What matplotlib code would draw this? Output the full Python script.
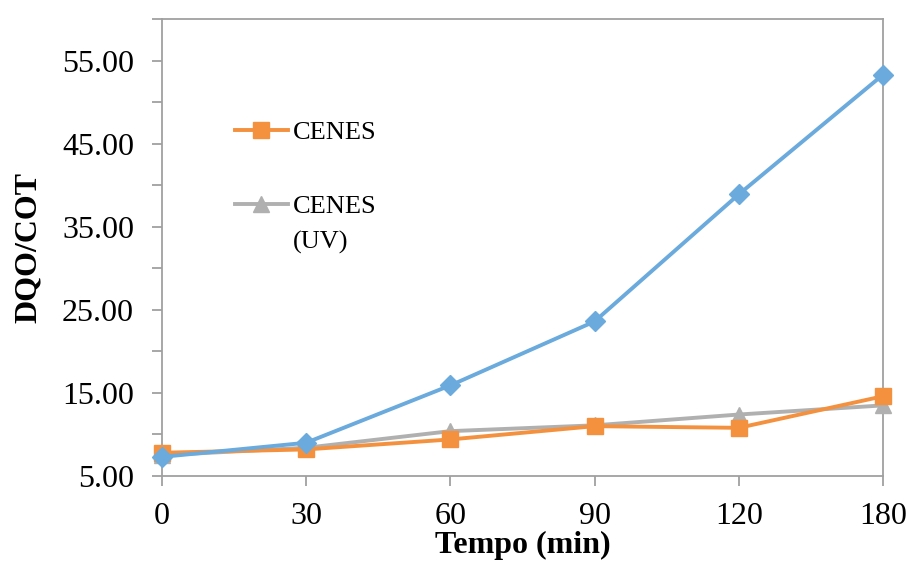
import matplotlib
matplotlib.use("Agg")
import matplotlib.pyplot as plt
from matplotlib.ticker import FixedLocator

categories = ["0", "30", "60", "90", "120", "180"]
serie_azul = [7.3, 9.0, 15.9, 23.6, 38.9, 53.3]
cenes = [7.8, 8.2, 9.4, 11.0, 10.8, 14.6]
cenes_uv = [7.5, 8.4, 10.4, 11.1, 12.4, 13.5]
legend_labels = ["CENES", "CENES", "(UV)"]

plt.rcParams['font.family'] = ['Liberation Serif', 'DejaVu Serif']

fig = plt.figure(figsize=(9.09, 5.61), dpi=100)
ax = fig.add_axes([0.178, 0.1515, 0.7934, 0.8145])

x = list(range(len(categories)))
blue = '#6AAADD'
orange = '#F4913F'
gray = '#B0B0B0'

l_uv, = ax.plot(x, cenes_uv, color=gray, lw=2.8, marker='^', ms=12, clip_on=False, zorder=3)
l_c, = ax.plot(x, cenes, color=orange, lw=2.8, marker='s', ms=11, clip_on=False, zorder=4)
ax.plot(x, serie_azul, color=blue, lw=2.8, marker='D', ms=10, clip_on=False, zorder=5)

ax.set_xlim(0, 5)
ax.set_ylim(5, 60)
ax.set_xticks(x)
ax.set_xticklabels(categories)
ax.yaxis.set_major_locator(FixedLocator([5, 15, 25, 35, 45, 55]))
ax.yaxis.set_minor_locator(FixedLocator([10, 20, 30, 40, 50, 60]))
ax.set_yticklabels([f"{v:.2f}" for v in [5, 15, 25, 35, 45, 55]])

spine_c = '#A0A0A0'
for s in ax.spines.values():
    s.set_color(spine_c)
    s.set_linewidth(1.3)
ax.tick_params(axis='both', which='both', color=spine_c, width=1.3, length=7, labelsize=23)
ax.tick_params(axis='x', pad=12)
ax.tick_params(axis='y', pad=13)

ax.set_xlabel('Tempo (min)', fontsize=23, fontweight='bold', labelpad=0)
ax.set_ylabel('DQO/COT', fontsize=23, fontweight='bold', labelpad=14)

leg = ax.legend([l_c, l_uv], legend_labels[:2],
                loc='upper left', bbox_to_anchor=(0.087, 0.80), frameon=False,
                fontsize=19, handlelength=2.0, handletextpad=0.2, labelspacing=1.9,
                borderaxespad=0)

fig.canvas.draw()
tb = leg.get_texts()[1].get_window_extent()
inv = fig.transFigure.inverted()
(x0, y0) = inv.transform((tb.x0, tb.y0))
fig.text(x0, y0 - 0.022, legend_labels[2], fontsize=19, ha='left', va='top')

fig.savefig('out.png', dpi=100)
